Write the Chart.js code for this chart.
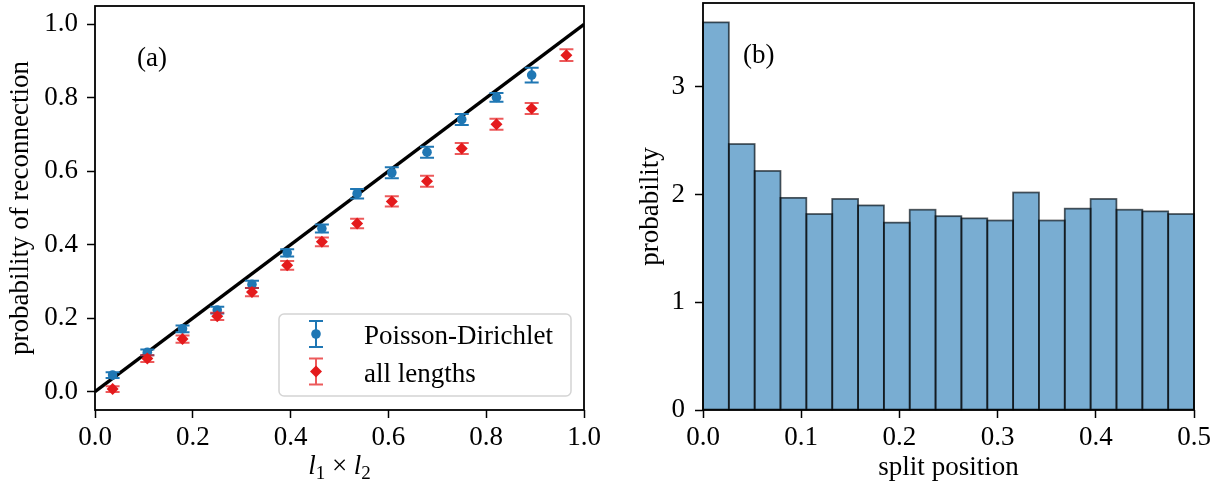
<!DOCTYPE html>
<html>
<head>
<meta charset="utf-8">
<script src="https://cdn.jsdelivr.net/npm/chart.js@4.4.1/dist/chart.umd.min.js"></script>
<style>
    html, body { margin: 0; padding: 0; background: #fff; }
    #wrap { position: relative; width: 1222px; height: 484px; }
    .panel { position: absolute; top: 0; height: 484px; }
</style>
</head>
<body>
<div id="wrap">
    <div class="panel" style="left:0;width:600px"><canvas id="chart-a"></canvas></div>
    <div class="panel" style="left:610px;width:612px"><canvas id="chart-b"></canvas></div>
</div>
<script>
// panel (a): reconnection probability vs l1*l2
const productX = [0.036, 0.107, 0.179, 0.250, 0.321, 0.393, 0.464, 0.536, 0.607, 0.679, 0.750, 0.821, 0.893, 0.964];
const pdProb = [0.045, 0.107, 0.171, 0.222, 0.292, 0.378, 0.444, 0.539, 0.596, 0.652, 0.741, 0.801, 0.862];
const pdErr = [0.008, 0.008, 0.009, 0.009, 0.010, 0.010, 0.011, 0.013, 0.015, 0.015, 0.015, 0.012, 0.020];
const allProb = [0.007, 0.090, 0.143, 0.205, 0.271, 0.344, 0.408, 0.458, 0.518, 0.573, 0.662, 0.728, 0.771, 0.916];
const allErr = [0.008, 0.009, 0.010, 0.010, 0.011, 0.012, 0.012, 0.013, 0.014, 0.015, 0.015, 0.015, 0.015, 0.016];
const diagX = [0, 1];
const diagY = [0, 1];
const ticksA = [0, 0.2, 0.4, 0.6, 0.8, 1.0];

// panel (b): histogram of split positions
const binLeft = [0.0000, 0.0263, 0.0526, 0.0789, 0.1053, 0.1316, 0.1579, 0.1842, 0.2105, 0.2368,
                 0.2632, 0.2895, 0.3158, 0.3421, 0.3684, 0.3947, 0.4211, 0.4474, 0.4737];
const binWidth = 0.0263;
const splitProb = [3.60, 2.47, 2.22, 1.97, 1.82, 1.96, 1.90, 1.74, 1.86, 1.80,
                   1.78, 1.76, 2.02, 1.76, 1.87, 1.96, 1.86, 1.845, 1.82];
const ticksBX = [0, 0.1, 0.2, 0.3, 0.4, 0.5];
const ticksBY = [0, 1, 2, 3];

const serif = "'Liberation Serif', 'Times New Roman', serif";
const blue = '#1f77b4';
const red = '#e41a1c';

function fixTicks(values) {
    return (scale) => { scale.ticks = values.map((v) => ({ value: v })); };
}

function axis(ticks, fmt, size, title, titlePad) {
    return {
        type: 'linear',
        offset: false,
        afterBuildTicks: fixTicks(ticks),
        afterFit: (scale) => {
            if (scale.isHorizontal()) scale.height = size;
            else scale.width = size;
            // no extra room for overhanging labels, layout padding decides
            scale.paddingTop = 0;
            scale.paddingBottom = 0;
            scale.paddingLeft = 0;
            scale.paddingRight = 0;
        },
        border: { display: false },
        grid: { offset: false, drawOnChartArea: false, drawTicks: true, tickLength: 8, tickWidth: 1.5, tickColor: '#000' },
        ticks: { color: '#000', font: { family: serif, size: 27 }, padding: 4, callback: fmt, maxRotation: 0, autoSkip: false },
        title: { display: !!title, text: title || '', color: '#000', font: { family: serif, size: 27 }, padding: { top: titlePad, bottom: 0 } },
    };
}

const framePlugin = {
    id: 'frame',
    afterDraw(chart, args, opts) {
        const { ctx, chartArea: a } = chart;
        ctx.save();
        ctx.strokeStyle = '#000';
        ctx.lineWidth = 1.8;
        ctx.strokeRect(a.left, a.top, a.right - a.left, a.bottom - a.top);
        ctx.fillStyle = '#000';
        ctx.font = `27px ${serif}`;
        ctx.textBaseline = 'alphabetic';
        ctx.fillText(opts.label, a.left + opts.dx, a.top + 60);
        ctx.restore();
    },
};

function drawErrorGlyph(ctx, px, top, bot) {
    ctx.beginPath();
    ctx.moveTo(px, top); ctx.lineTo(px, bot);
    ctx.moveTo(px - 7, top); ctx.lineTo(px + 7, top);
    ctx.moveTo(px - 7, bot); ctx.lineTo(px + 7, bot);
    ctx.stroke();
}

function drawMarker(ctx, style, r, x, y) {
    ctx.beginPath();
    if (style === 'circle') {
        ctx.arc(x, y, r, 0, Math.PI * 2);
    } else {
        ctx.moveTo(x - r, y); ctx.lineTo(x, y - r); ctx.lineTo(x + r, y); ctx.lineTo(x, y + r);
        ctx.closePath();
    }
    ctx.fill();
}

const errorBars = {
    id: 'errorBars',
    beforeDatasetDraw(chart, args) {
        const ds = chart.data.datasets[args.index];
        if (!ds.errors) return;
        const { ctx, scales: { x, y } } = chart;
        ctx.save();
        ctx.strokeStyle = ds.errorColor;
        ctx.lineWidth = 2;
        ds.data.forEach((p, i) => {
            const px = x.getPixelForValue(p.x);
            drawErrorGlyph(ctx, px, y.getPixelForValue(p.y + ds.errors[i]), y.getPixelForValue(p.y - ds.errors[i]));
        });
        ctx.restore();
    },
};

const legendBox = {
    id: 'legendBox',
    afterDraw(chart) {
        const { ctx, chartArea: a } = chart;
        const w = 292, h = 82;
        const x0 = a.right - 13 - w, y0 = a.bottom - 14 - h;
        ctx.save();
        ctx.beginPath();
        ctx.roundRect(x0, y0, w, h, 5);
        ctx.fillStyle = 'rgba(255,255,255,0.8)';
        ctx.fill();
        ctx.strokeStyle = '#d4d4d4';
        ctx.lineWidth = 1.5;
        ctx.stroke();
        const rows = chart.data.datasets.filter((d) => d.errors);
        rows.forEach((ds, i) => {
            const cx = x0 + 37, cy = y0 + 20 + i * 37.5;
            ctx.strokeStyle = ds.errorColor;
            ctx.lineWidth = 2;
            drawErrorGlyph(ctx, cx, cy - 13, cy + 13);
            ctx.fillStyle = ds.backgroundColor;
            drawMarker(ctx, ds.pointStyle, ds.pointRadius, cx, cy);
            ctx.fillStyle = '#000';
            ctx.font = `27px ${serif}`;
            ctx.textBaseline = 'alphabetic';
            ctx.fillText(ds.label, x0 + 85, cy + 10);
        });
        ctx.restore();
    },
};

// x label of panel (a) needs subscripts: l_1 x l_2
const productLabel = {
    id: 'productLabel',
    afterDraw(chart) {
        const { ctx, chartArea: a } = chart;
        const parts = [
            { t: 'l', font: `italic 27px ${serif}`, dy: 0 },
            { t: '1', font: `19px ${serif}`, dy: 5 },
            { t: ' \u00d7 ', font: `27px ${serif}`, dy: 0 },
            { t: 'l', font: `italic 27px ${serif}`, dy: 0 },
            { t: '2', font: `19px ${serif}`, dy: 5 },
        ];
        ctx.save();
        ctx.fillStyle = '#000';
        ctx.textBaseline = 'alphabetic';
        let total = 0;
        parts.forEach((p) => { ctx.font = p.font; p.w = ctx.measureText(p.t).width; total += p.w; });
        let x = (a.left + a.right) / 2 - total / 2;
        parts.forEach((p) => {
            ctx.font = p.font;
            ctx.fillText(p.t, x, 474 + p.dy);
            x += p.w;
        });
        ctx.restore();
    },
};

const barEdges = {
    id: 'barEdges',
    afterDatasetsDraw(chart) {
        const { ctx } = chart;
        const meta = chart.getDatasetMeta(0);
        ctx.save();
        ctx.strokeStyle = 'rgba(0,0,0,0.6)';
        ctx.lineWidth = 1.8;
        meta.data.forEach((bar) => {
            const { x, y, base, width } = bar.getProps(['x', 'y', 'base', 'width'], true);
            ctx.strokeRect(x - width / 2, y, width, base - y);
        });
        ctx.restore();
    },
};

const fmt1 = (v) => Number(v).toFixed(1);
const fmt0 = (v) => String(v);

const xA = axis(ticksA, fmt1, 74, '', 0);
xA.min = 0; xA.max = 1;
const yA = axis(ticksA, fmt1, 95, 'probability of reconnection', 5);
yA.min = -0.05; yA.max = 1.05;
yA.ticks.padding = 9;

new Chart(document.getElementById('chart-a'), {
    data: {
        datasets: [
            {
                type: 'line',
                label: 'diagonal',
                data: diagX.map((x, i) => ({ x, y: diagY[i] })),
                borderColor: '#000',
                borderWidth: 3.3,
                pointRadius: 0,
                order: 3,
            },
            {
                type: 'scatter',
                label: 'Poisson-Dirichlet',
                data: pdProb.map((y, i) => ({ x: productX[i], y })),
                errors: pdErr,
                errorColor: blue,
                backgroundColor: blue,
                borderWidth: 0,
                pointStyle: 'circle',
                pointRadius: 4.8,
                order: 2,
            },
            {
                type: 'scatter',
                label: 'all lengths',
                data: allProb.map((y, i) => ({ x: productX[i], y })),
                errors: allErr,
                errorColor: 'rgba(228,26,28,0.72)',
                backgroundColor: red,
                borderWidth: 0,
                pointStyle: 'rectRot',
                pointRadius: 6,
                order: 1,
            },
        ],
    },
    options: {
        responsive: true,
        maintainAspectRatio: false,
        animation: false,
        layout: { padding: { top: 3, right: 16, left: 0, bottom: 0 } },
        scales: { x: xA, y: yA },
        plugins: {
            legend: { display: false },
            tooltip: { enabled: false },
            frame: { label: '(a)', dx: 42 },
        },
    },
    plugins: [errorBars, framePlugin, legendBox, productLabel],
});

const xB = axis(ticksBX, fmt1, 74, 'split position', 3);
xB.min = 0; xB.max = 0.5;
const yB = axis(ticksBY, fmt0, 93, 'probability', 25);
yB.min = 0; yB.max = 3.78;
yB.ticks.padding = 10;

new Chart(document.getElementById('chart-b'), {
    type: 'bar',
    data: {
        datasets: [
            {
                label: 'split position',
                data: splitProb.map((y, i) => ({ x: binLeft[i] + binWidth / 2, y })),
                backgroundColor: '#79add2',
                borderWidth: 0,
                barPercentage: 1,
                categoryPercentage: 1,
            },
        ],
    },
    options: {
        responsive: true,
        maintainAspectRatio: false,
        animation: false,
        layout: { padding: { top: 3, right: 28, left: 0, bottom: 0 } },
        scales: { x: xB, y: yB },
        plugins: {
            legend: { display: false },
            tooltip: { enabled: false },
            frame: { label: '(b)', dx: 40 },
        },
    },
    plugins: [barEdges, framePlugin],
});
</script>
</body>
</html>
